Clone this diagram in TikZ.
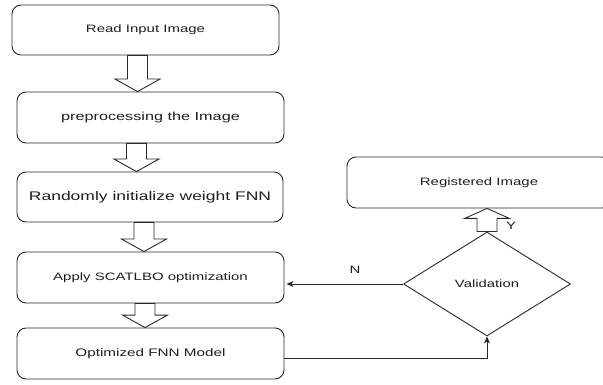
\documentclass[tikz,border=0pt]{standalone}
\usepackage{fontspec}
\setmainfont{Liberation Sans}[FakeStretch=1.4]
\usetikzlibrary{shapes.geometric,arrows.meta,calc}
\definecolor{txt}{HTML}{1E1E1E}
\definecolor{ln}{HTML}{2A2A2A}
\tikzset{
  box/.style={draw=ln, line width=0.9pt, rounded corners=9pt, inner sep=0pt,
    text=txt, font=\fontsize{10.7}{12}\selectfont},
  blk/.style={draw=ln, line width=0.9pt, fill=white, line join=miter},
  conn/.style={draw=ln, line width=0.9pt},
  tip/.style={-{Stealth[length=7pt,width=6pt,inset=2pt]}},
  lbl/.style={text=txt, font=\fontsize{10.7}{12}\selectfont, inner sep=0pt}
}
\newcommand{\blkdown}[3]{%
  \path[blk] let \p1=($(#1.south)+(#3,0)$), \p2=(#2.north) in
    (\x1-10pt,\y1) -- (\x1+10pt,\y1) -- (\x1+10pt,\y2+12.5pt) -- (\x1+22.5pt,\y2+12.5pt)
    -- (\x1,\y2) -- (\x1-22.5pt,\y2+12.5pt) -- (\x1-10pt,\y2+12.5pt) -- cycle;}
\newcommand{\blkup}[3]{%
  \path[blk] let \p1=($(#1.north)+(#3,0)$), \p2=(#2.south) in
    (\x1-10pt,\y1) -- (\x1+10pt,\y1) -- (\x1+10pt,\y2-10pt) -- (\x1+22.5pt,\y2-10pt)
    -- (\x1,\y2) -- (\x1-22.5pt,\y2-10pt) -- (\x1-10pt,\y2-10pt) -- cycle;}
\begin{document}
\begin{tikzpicture}[x=1pt,y=-1pt]
\useasboundingbox (0,0) rectangle (603,385);
\clip (0,0) rectangle (603,385);
\node[box, minimum width=267pt, minimum height=50pt] (b1) at (145.5,30) {Read Input Image};
\node[box, minimum width=267pt, minimum height=51pt, font=\fontsize{11.6}{13}\selectfont] (b2) at (150.5,117.5) {preprocessing the Image};
\node[box, minimum width=266pt, minimum height=50pt, font=\fontsize{12.5}{14}\selectfont] (b3) at (150,197) {Randomly initialize weight FNN};
\node[box, minimum width=267pt, minimum height=51pt] (b4) at (150.5,277.5) {Apply SCATLBO optimization};
\node[box, minimum width=267pt, minimum height=51pt, font=\fontsize{10.9}{12}\selectfont] (b5) at (150.5,353.5) {Optimized FNN Model};
\node[box, minimum width=264pt, minimum height=51pt] (reg) at (479,182.5) {Registered Image};
\node[diamond, draw=ln, line width=0.9pt, aspect=1.6, minimum width=167pt, minimum height=104pt,
  inner sep=0pt, text=txt, font=\fontsize{10.6}{12}\selectfont] (val) at (487,284) {Validation};
\blkdown{b1}{b2}{-8}
\blkdown{b2}{b3}{-14}
\blkdown{b3}{b4}{-6}
\blkdown{b4}{b5}{-5.5}
\blkup{val}{reg}{0}
\draw[conn, tip, shorten >=2pt] (val.west) -- (val.west -| b4.east);
\draw[conn, tip] ([yshift=-4.5pt]b5.east) -| (val.south);
\node[lbl] (nlab) at (355,270) {N};
\node[lbl] (ylab) at (511,226) {Y};
\end{tikzpicture}
\end{document}
